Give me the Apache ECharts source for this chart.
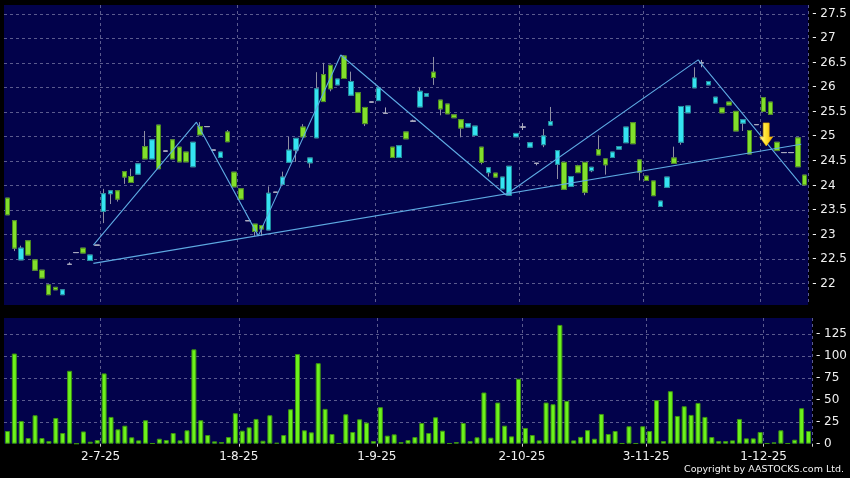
<!DOCTYPE html>
<html><head><meta charset="utf-8">
<script src="https://cdn.jsdelivr.net/npm/echarts@6/dist/echarts.min.js"></script>
<style>html,body{margin:0;padding:0;background:#000;}#c{width:850px;height:478px;}</style>
</head><body><div id="c"></div>
<script>
// ---- data ----
const openP = [
 23.74,23.28,22.48,22.87,22.48,22.27,21.97,21.92,21.77,22.39,
 22.63,22.72,22.47,22.78,23.47,23.83,23.89,24.28,24.18,24.23,
 24.79,24.54,25.23,24.70,24.93,24.78,24.68,24.38,25.20,25.20,
 24.72,24.57,25.09,24.27,23.93,23.28,23.21,23.18,23.09,23.86,
 24.02,24.47,24.72,25.19,24.46,24.97,26.26,26.45,26.05,26.64,
 25.84,25.89,25.59,25.70,25.73,25.47,24.78,24.57,25.09,25.31,
 25.60,25.82,26.31,25.74,25.66,25.44,25.34,25.19,25.02,24.78,
 24.26,24.25,23.93,23.80,24.99,25.19,24.78,24.45,24.83,25.23,
 24.43,24.47,23.98,24.40,24.47,24.30,24.73,24.54,24.57,24.74,
 24.87,25.28,24.52,24.19,24.09,23.57,23.96,24.56,24.88,25.48,
 25.99,26.50,26.05,25.68,25.58,25.70,25.51,25.27,25.12,25.24,
 25.79,25.70,24.88,24.67,24.67,24.97,24.21];
const closeP = [
 23.40,22.72,22.72,22.58,22.27,22.11,21.77,21.87,21.87,22.39,
 22.63,22.62,22.58,22.78,23.83,23.89,23.72,24.17,24.06,24.44,
 24.54,24.93,24.34,24.70,24.54,24.48,24.48,24.88,25.03,25.20,
 24.72,24.68,24.89,23.97,23.72,23.28,23.06,23.11,23.84,23.86,
 24.17,24.72,24.96,24.99,24.56,25.97,25.71,25.97,26.17,26.18,
 26.12,25.49,25.26,25.70,25.99,25.47,24.57,24.81,24.95,25.31,
 25.92,25.87,26.20,25.56,25.46,25.38,25.17,25.26,25.21,24.47,
 24.36,24.17,24.17,24.39,25.06,25.19,24.87,24.45,25.01,25.30,
 24.71,23.92,24.18,24.26,23.86,24.37,24.62,24.42,24.68,24.79,
 25.19,24.85,24.27,24.10,23.79,23.68,24.17,24.45,25.61,25.62,
 26.19,26.50,26.12,25.80,25.48,25.64,25.11,25.34,24.64,25.24,
 25.51,25.45,24.71,24.67,24.67,24.38,24.01];
const lowP = [
 23.40,22.66,22.48,22.58,22.27,22.11,21.77,21.87,21.77,22.39,
 22.63,22.62,22.47,22.78,23.23,23.62,23.67,24.03,24.06,24.23,
 24.54,24.54,24.34,24.70,24.54,24.48,24.48,24.38,25.03,25.20,
 24.72,24.57,24.89,23.97,23.72,23.28,22.97,22.97,23.09,23.86,
 24.02,24.47,24.48,24.99,24.36,24.97,25.71,25.92,26.05,26.18,
 25.84,25.49,25.21,25.70,25.73,25.47,24.57,24.57,24.95,25.31,
 25.60,25.82,26.05,25.43,25.46,25.38,24.98,25.19,25.02,24.43,
 24.18,24.17,23.93,23.80,24.99,25.13,24.78,24.41,24.78,25.23,
 24.13,23.92,23.98,24.26,23.80,24.27,24.62,24.22,24.57,24.74,
 24.87,24.85,24.10,24.10,23.79,23.57,23.96,24.45,24.83,25.48,
 25.99,26.41,26.05,25.68,25.48,25.64,25.11,25.11,24.64,25.24,
 25.51,25.45,24.71,24.67,24.67,24.38,24.01];
const highP = [
 23.74,23.28,22.77,22.87,22.48,22.27,21.97,21.92,21.87,22.43,
 22.63,22.72,22.58,22.78,23.93,23.89,23.89,24.28,24.34,24.44,
 25.11,24.93,25.23,24.70,24.93,24.78,24.68,24.88,25.29,25.20,
 24.72,24.68,25.13,24.27,23.93,23.28,23.21,23.18,23.98,23.86,
 24.28,24.99,24.96,25.25,24.56,26.31,26.50,26.45,26.17,26.66,
 26.32,25.89,25.59,25.70,25.99,25.59,24.78,24.81,25.09,25.34,
 26.00,25.87,26.62,25.74,25.66,25.44,25.34,25.26,25.21,24.78,
 24.36,24.25,24.17,24.39,25.06,25.27,24.87,24.45,25.15,25.60,
 24.71,24.47,24.18,24.42,24.47,24.37,25.02,24.54,24.68,24.79,
 25.19,25.28,24.52,24.19,24.09,23.68,24.17,24.79,25.61,25.62,
 26.41,26.56,26.12,25.80,25.58,25.70,25.51,25.34,25.12,25.24,
 25.79,25.70,24.88,24.67,24.67,24.97,24.21];
const volume = [
 14.5,103,26,6.5,32.5,6.5,3,29.4,12.2,83.3,
 0,14,2.3,4.2,80.3,30.6,16.4,20.6,7.3,3.8,
 26.8,0.5,5.7,4.2,12.2,3.8,15.3,107.8,26.8,9.9,
 2.7,1.9,7.6,34.8,14.9,18.7,28.3,3.4,32.5,1,
 9.9,39.4,102.4,15.3,13,92,39.8,11.1,0.5,33.6,
 13.4,27.9,24.1,3,41.7,9.2,10.7,1.9,4.2,7.6,
 23.7,12.2,30.2,14.9,0.5,1.9,23.7,3,7.3,58.5,
 6.9,47,20.6,8.4,74.2,18,9.9,3.8,47,45.1,
 135.7,48.9,3.8,7.8,15.5,5.7,34,11.1,14.5,0.5,
 19.9,0.5,19.9,14.5,49.7,3,60,31.7,42.8,32.9,
 46.6,30.6,7.6,3,3,3.8,28.3,6.1,6.1,13.4,
 0.5,1.5,15.3,0.5,4.6,40.5,14.5];
const days = openP.map((_, i) => i);            // trading-day categories
const tickIndex = [14, 34, 54, 75, 93, 110];    // first day of each labelled month
const tickText = ['2-7-25', '1-8-25', '1-9-25', '2-10-25', '3-11-25', '1-12-25'];
const zigzagIdx = [13, 28, 37, 49, 73, 101, 116];
const zigzagPrice = [22.78, 25.29, 22.97, 26.66, 23.81, 26.56, 24.01];
const trendIdx = [13, 116];
const trendPrice = [22.41, 24.84];
const arrowIdx = [110.9];
const arrowPrice = [25.04];
const copyright = 'Copyright by AASTOCKS.com Ltd.';

// ---- styles ----
const BG = '#02024b';
const GRIDC = '#5b5b8e';
const UP = '#35e3f2', DOWN = '#82df2c';
const WICK = '#8f8fa3', DOJI = '#a9a9bd';
const LABEL = '#f0f0f0';
const FONT = 'DejaVu Sans';
const isTick = (i) => tickIndex.indexOf(i) >= 0;
const split = { show: true, interval: isTick, lineStyle: { color: GRIDC, type: [3, 3], width: 1 } };
const ySplit = { show: true, showMinLine: false, showMaxLine: false, lineStyle: { color: GRIDC, type: [3, 3], width: 1 } };
const yLabel = { formatter: (v) => '- ' + v, showMinLabel: false, showMaxLabel: false, margin: 4, color: LABEL, fontSize: 12, fontFamily: FONT };
const vLabel = Object.assign({}, yLabel, { showMinLabel: true });

const chart = echarts.init(document.getElementById('c'), null, { renderer: 'canvas' });
chart.setOption({
  animation: false,
  backgroundColor: '#000',
  grid: [
    { left: 4, top: 5, width: 810, height: 300, show: true, backgroundColor: BG, borderWidth: 0 },
    { left: 4, top: 318, width: 810, height: 125.7, show: true, backgroundColor: BG, borderWidth: 0 }
  ],
  xAxis: [
    { type: 'category', gridIndex: 0, data: days, axisLine: { show: false }, axisTick: { show: false }, axisLabel: { show: false }, splitLine: split },
    { type: 'category', gridIndex: 1, data: days, offset: 3, axisLine: { show: false },
      axisTick: { show: true, length: 3, interval: isTick, lineStyle: { color: '#d0d0d0' } },
      axisLabel: { show: true, interval: isTick, formatter: (v, i) => tickText[tickIndex.indexOf(i)] || '', color: LABEL, fontSize: 12, fontFamily: FONT, margin: 4, padding: [0, 7, 0, 0] },
      splitLine: split },
    { type: 'value', gridIndex: 0, min: 0, max: days.length, show: false }
  ],
  yAxis: [
    { type: 'value', gridIndex: 0, position: 'right', min: 21.56, max: 27.68, splitNumber: 12, axisLine: { show: false }, axisTick: { show: false }, axisLabel: yLabel, splitLine: ySplit },
    { type: 'value', gridIndex: 1, position: 'right', min: 0, max: 143.6, interval: 25, axisLine: { show: false }, axisTick: { show: false }, axisLabel: vLabel, splitLine: ySplit }
  ],
  series: [
    { type: 'candlestick', xAxisIndex: 0, yAxisIndex: 0, barWidth: 5,
      data: days.map(i => [openP[i], closeP[i], lowP[i], highP[i]]),
      itemStyle: { color: UP, color0: DOWN, borderColor: WICK, borderColor0: WICK, borderColorDoji: DOJI, borderWidth: 1 } },
    { type: 'candlestick', xAxisIndex: 0, yAxisIndex: 0, barWidth: 5,
      data: days.map(i => [openP[i], closeP[i], Math.min(openP[i], closeP[i]), Math.max(openP[i], closeP[i])]),
      itemStyle: { color: UP, color0: DOWN, borderColor: '#1d8c9c', borderColor0: '#4a8a1c', borderColorDoji: DOJI, borderWidth: 1 } },
    { type: 'bar', xAxisIndex: 1, yAxisIndex: 1, barWidth: 5, data: volume,
      itemStyle: { color: '#6cf21c', borderColor: '#3d9212', borderWidth: 1 } },
    { type: 'line', xAxisIndex: 2, yAxisIndex: 0, symbol: 'none', z: 5,
      data: zigzagIdx.map((x, i) => [x, zigzagPrice[i]]), lineStyle: { color: '#5eaae2', width: 1.1 } },
    { type: 'line', xAxisIndex: 2, yAxisIndex: 0, symbol: 'none', z: 5,
      data: trendIdx.map((x, i) => [x, trendPrice[i]]), lineStyle: { color: '#5eaae2', width: 1.1 } },
    { type: 'scatter', xAxisIndex: 2, yAxisIndex: 0, z: 6,
      symbol: 'path://M3.5,0 L9.5,0 L9.5,14 L13,14 L6.5,23 L0,14 L3.5,14 Z', symbolSize: [13, 23],
      data: arrowIdx.map((x, i) => [x, arrowPrice[i]]),
      itemStyle: { opacity: 1, color: new echarts.graphic.LinearGradient(0, 0, 1, 0, [{ offset: 0, color: '#fffcc0' }, { offset: 0.45, color: '#ffe533' }, { offset: 1, color: '#f5b400' }]), borderColor: '#e8a800', borderWidth: 0.6 } }
  ],
  graphic: [
    { type: 'text', right: 6, top: 465, style: { text: copyright, fill: '#f4f4f4', font: '9.5px "DejaVu Sans"' } }
  ]
});
</script></body></html>
